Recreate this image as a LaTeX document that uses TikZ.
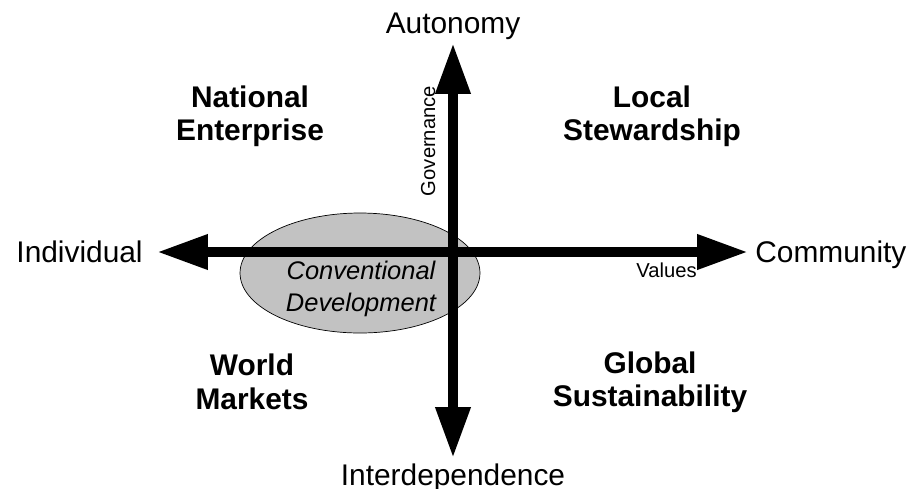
\documentclass[tikz,border=0pt]{standalone}
\usepackage{fontspec}
\setmainfont{Liberation Sans}
\usetikzlibrary{arrows.meta,shapes.geometric}

\definecolor{convgray}{gray}{0.76}

\tikzset{
  axis/.style={line width=0.2cm,{Triangle[width=0.66cm,length=1.02cm]}-{Triangle[width=0.66cm,length=1.02cm]}},
  pole/.style={inner sep=0pt,font=\fontsize{17}{20}\selectfont},
  scenario/.style={align=center,inner sep=0pt,font=\fontsize{17}{19}\selectfont\bfseries},
  dimlabel/.style={inner sep=0pt,font=\fontsize{11.5}{13}\selectfont}
}

\begin{document}
\begin{tikzpicture}[x=0.02cm,y=-0.02cm]
        \useasboundingbox (0,0) rectangle (917,488);
        % the mixed path in the middle
        \node[ellipse,draw,fill=convgray,minimum width=4.8cm,minimum height=2.4cm,inner sep=0pt] (convdev) at (360,273) {};
        \node[align=center,inner sep=0pt,font=\fontsize{14.5}{18}\selectfont\itshape] (convtext) at (361,289) {Conventional\\Development};
        % axis ends
        \coordinate (north) at (453,43);
        \coordinate (south) at (453,458);
        \coordinate (west) at (157,252);
        \coordinate (east) at (748,252);
        \draw[axis] (west) -- (east);
        \draw[axis] (south) -- (north);
        \node[pole,anchor=base] (autonomy) at (453,33) {Autonomy};
        \node[pole,anchor=base] (interdep) at (453,485) {Interdependence};
        \node[pole,anchor=base east] (individual) at (143,262) {Individual};
        \node[pole,anchor=base west] (community) at (755,262) {Community};
        \node[dimlabel,anchor=base east] (values) at (697,277) {Values};
        \node[dimlabel,anchor=base,rotate=90] (governance) at (435,141) {Governance};
        % the four quadrants
        \node[scenario] (natent) at (250,116) {National\\Enterprise};
        \node[scenario] (localstew) at (652,116) {Local\\Stewardship};
        \node[scenario] (worldmkt) at (252,382) {World\\Markets};
        \node[scenario] (globsust) at (650,382) {Global\\Sustainability};
    \end{tikzpicture}
\end{document}
